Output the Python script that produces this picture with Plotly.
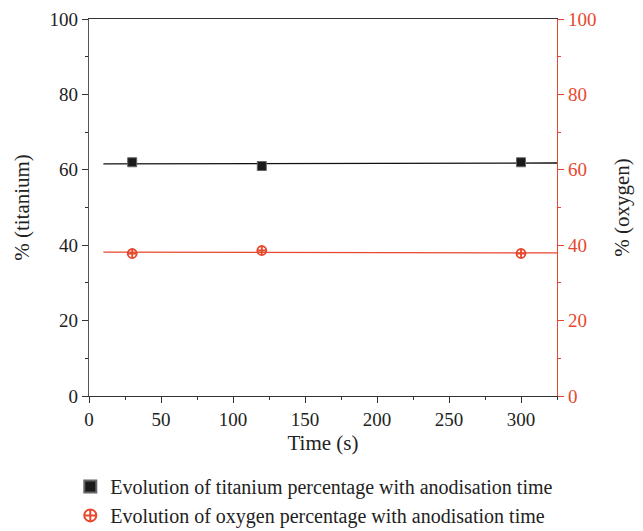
import plotly.graph_objects as go
import numpy as np

time_s = [30, 120, 300]
titanium_pct = [62.0, 61.0, 62.0]
oxygen_pct = [37.8, 38.6, 37.8]
fit_x = [10, 325]

RED = "#e8472d"
FONT = "'Liberation Serif', 'Times New Roman', 'DejaVu Serif', serif"

ti_c = np.polyfit(time_s, titanium_pct, 1)
o_c = np.polyfit(time_s, oxygen_pct, 1)
ti_fit = [float(np.polyval(ti_c, v)) for v in fit_x]
o_fit = [float(np.polyval(o_c, v)) for v in fit_x]

fig = go.Figure()
fig.add_trace(go.Scatter(x=fit_x, y=ti_fit, mode="lines", line=dict(color="#111111", width=1.3),
                         showlegend=False, hoverinfo="skip"))
fig.add_trace(go.Scatter(x=fit_x, y=o_fit, mode="lines", line=dict(color=RED, width=1.3),
                         showlegend=False, hoverinfo="skip", yaxis="y2"))
fig.add_trace(go.Scatter(x=time_s, y=titanium_pct, mode="markers",
                         marker=dict(symbol="square", size=9, color="#1a1a1a", line=dict(color="#666", width=1)),
                         name="Evolution of titanium percentage with anodisation time"))
fig.add_trace(go.Scatter(x=time_s, y=oxygen_pct, mode="markers", yaxis="y2",
                         marker=dict(symbol="circle-cross-open", size=9, color=RED, line=dict(color=RED, width=1.8)),
                         name="Evolution of oxygen percentage with anodisation time"))

tickfont = dict(family=FONT, size=19, color="#222")
titlefont = dict(family=FONT, size=21, color="#222")
fig.update_layout(
    width=643, height=531,
    margin=dict(l=89, r=86, t=19, b=135, autoexpand=False),
    paper_bgcolor="white", plot_bgcolor="white",
    font=dict(family=FONT, size=19, color="#222"),
    xaxis=dict(range=[0, 325], tickvals=[0, 50, 100, 150, 200, 250, 300], ticks="outside", ticklen=6,
               tickcolor="#333", showline=True, linecolor="#333", linewidth=1.2, mirror=True,
               showgrid=False, zeroline=False, tickfont=tickfont,
               minor=dict(dtick=25, tick0=0, ticks="outside", ticklen=3, tickcolor="#333", showgrid=False),
               title=dict(text="Time (s)", font=titlefont, standoff=6)),
    yaxis=dict(range=[0, 100], dtick=20, ticks="outside", ticklen=6, tickcolor="#333",
               showline=True, linecolor="#555", linewidth=1.2, showgrid=False, zeroline=False,
               tickfont=tickfont,
               minor=dict(dtick=10, ticks="outside", ticklen=3, tickcolor="#333", showgrid=False),
               title=dict(text="% (titanium)", font=titlefont, standoff=14)),
    yaxis2=dict(range=[0, 100], dtick=20, overlaying="y", side="right", ticks="outside", ticklen=6,
                tickcolor=RED, showline=True, linecolor=RED, linewidth=1.2, showgrid=False, zeroline=False,
                tickfont=dict(family=FONT, size=19, color=RED),
                minor=dict(dtick=10, ticks="outside", ticklen=3, tickcolor=RED, showgrid=False),
                title=dict(text="% (oxygen)", font=titlefont, standoff=18)),
    legend=dict(x=-0.04, y=-0.188, xanchor="left", yanchor="top", font=dict(family=FONT, size=20, color="#222"),
                bgcolor="rgba(0,0,0,0)", tracegroupgap=0, itemsizing="constant"),
    showlegend=True,
)
fig.write_html("out.html")
